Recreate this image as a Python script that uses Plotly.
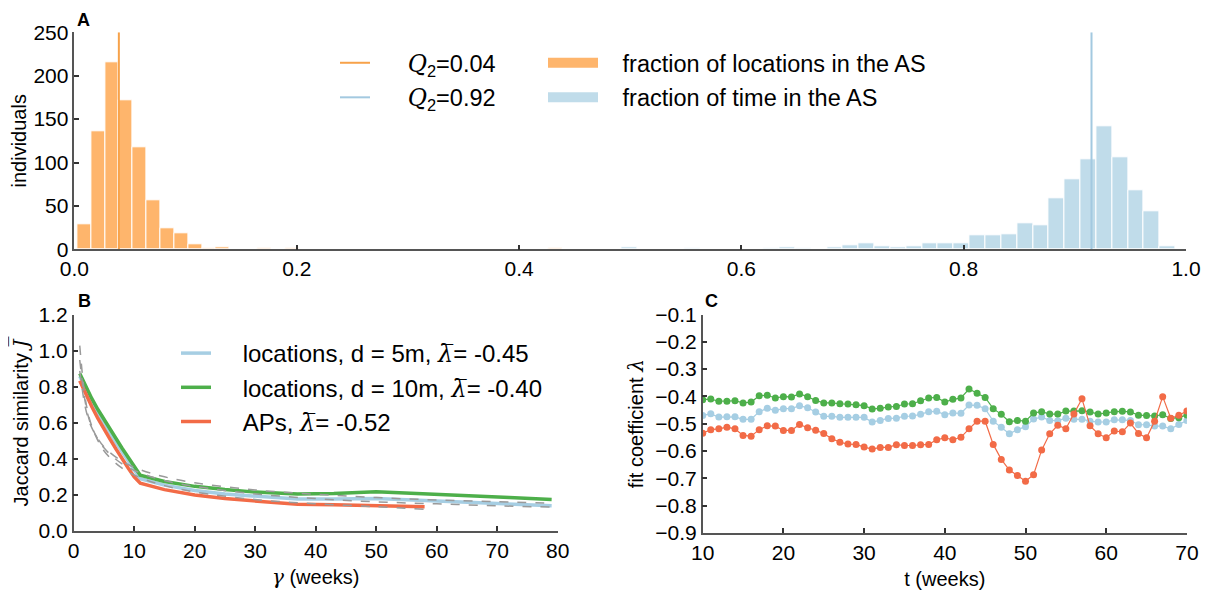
import plotly.graph_objects as go

# ---------------- Panel A data (histograms) ----------------
loc_bin_start = 0.0025
loc_bin_width = 0.01247
loc_counts = [29, 136, 216, 172, 117, 56, 24, 18, 6, 1, 2, 0, 0, 1, 0, 1, 0, 0, 0, 0,
              0, 0, 0, 0, 0, 0, 0, 0, 0, 0, 0, 0, 0, 0, 1]
time_bin_start = 0.4918
time_bin_width = 0.01425
time_counts = [2, 0, 0, 0, 1, 0, 0, 0, 0, 1, 2, 1, 0, 2, 5, 7, 4, 2, 4, 7,
               7, 7, 16, 16, 17, 30, 28, 59, 81, 104, 142, 106, 68, 44, 4]
q2_loc = 0.04
q2_time = 0.915
hist_top = 250

# ---------------- Panel B data (Jaccard similarity) ----------------
gamma = [1, 2, 3, 4, 5, 6, 7, 8, 9, 10, 11, 15, 20, 25, 30, 37, 43, 50, 58, 65, 72, 79]
jac_loc5 = [0.86, 0.785, 0.72, 0.66, 0.60, 0.545, 0.49, 0.44, 0.39, 0.34, 0.29, 0.255,
            0.225, 0.205, 0.192, 0.178, 0.178, 0.181, 0.17, 0.16, 0.15, 0.14]
jac_loc10 = [0.875, 0.80, 0.735, 0.675, 0.62, 0.565, 0.51, 0.46, 0.41, 0.36, 0.31, 0.275,
             0.248, 0.23, 0.216, 0.205, 0.208, 0.218, 0.208, 0.196, 0.186, 0.175]
gamma_ap = [1, 2, 3, 4, 5, 6, 7, 8, 9, 10, 11, 15, 20, 25, 30, 37, 43, 50, 58]
jac_ap = [0.835, 0.76, 0.69, 0.625, 0.565, 0.51, 0.455, 0.40, 0.35, 0.30, 0.265, 0.23,
          0.20, 0.18, 0.168, 0.148, 0.146, 0.143, 0.135]

fit_gamma = [1, 2, 3, 5, 8, 11, 15, 20, 30, 40, 50, 60, 70, 79]
fit_loc10 = [0.89, 0.675, 0.573, 0.468, 0.387, 0.341, 0.301, 0.268, 0.228, 0.204, 0.186,
             0.172, 0.163, 0.155]
fit_loc5 = [0.95, 0.70, 0.577, 0.462, 0.373, 0.323, 0.280, 0.248, 0.206, 0.180, 0.162,
            0.151, 0.140, 0.133]
fit_gamma_ap = [1, 2, 3, 5, 8, 11, 15, 20, 30, 40, 50, 58]
fit_ap = [1.03, 0.718, 0.582, 0.446, 0.349, 0.296, 0.252, 0.217, 0.175, 0.151, 0.135, 0.12]

# ---------------- Panel C data (fit coefficient over time) ----------------
t_weeks = list(range(10, 71))
lam_loc10 = [-0.412, -0.410, -0.418, -0.418, -0.416, -0.424, -0.421, -0.398, -0.396, -0.406,
             -0.401, -0.402, -0.391, -0.401, -0.415, -0.424, -0.424, -0.427, -0.428, -0.431,
             -0.434, -0.446, -0.444, -0.439, -0.437, -0.428, -0.427, -0.416, -0.406, -0.404,
             -0.421, -0.411, -0.406, -0.373, -0.389, -0.404, -0.445, -0.466, -0.493, -0.488,
             -0.491, -0.461, -0.456, -0.465, -0.465, -0.454, -0.454, -0.453, -0.457, -0.465,
             -0.461, -0.456, -0.455, -0.457, -0.469, -0.470, -0.472, -0.467, -0.481, -0.478,
             -0.468]
lam_loc5 = [-0.470, -0.464, -0.476, -0.475, -0.475, -0.484, -0.484, -0.456, -0.444, -0.451,
            -0.445, -0.445, -0.434, -0.442, -0.457, -0.473, -0.473, -0.477, -0.477, -0.477,
            -0.477, -0.494, -0.488, -0.481, -0.480, -0.473, -0.472, -0.466, -0.456, -0.455,
            -0.467, -0.461, -0.462, -0.432, -0.433, -0.445, -0.491, -0.513, -0.537, -0.522,
            -0.511, -0.483, -0.476, -0.488, -0.489, -0.480, -0.484, -0.484, -0.491, -0.494,
            -0.494, -0.486, -0.486, -0.488, -0.504, -0.504, -0.509, -0.509, -0.519, -0.503,
            -0.488]
lam_ap = [-0.535, -0.522, -0.519, -0.513, -0.519, -0.543, -0.546, -0.522, -0.508, -0.509,
          -0.525, -0.525, -0.503, -0.515, -0.524, -0.536, -0.555, -0.568, -0.575, -0.576,
          -0.586, -0.593, -0.587, -0.587, -0.577, -0.580, -0.580, -0.577, -0.576, -0.559,
          -0.552, -0.559, -0.550, -0.519, -0.491, -0.491, -0.576, -0.631, -0.670, -0.690,
          -0.711, -0.687, -0.597, -0.537, -0.506, -0.519, -0.465, -0.409, -0.508, -0.537,
          -0.552, -0.527, -0.530, -0.498, -0.536, -0.552, -0.491, -0.401, -0.480, -0.469,
          -0.454]

# ---------------- styling ----------------
ORANGE_BAR = "#FEB56C"
ORANGE_LINE = "#F7A24A"
BLUE_BAR = "#C0DCEA"
BLUE_LINE = "#A3C9E0"
C_BLUE = "#A6CEE3"
C_GREEN = "#4DAF4A"
C_RED = "#F26B47"
FONT = "Liberation Sans, Arial, sans-serif"
W, H = 1215, 590
OFF = 8  # page body margin of the html page
NB = "\u00a0"


def px(p):
    return (p - OFF) / W


def py(p):
    return 1 - (p - OFF) / H


def math(s):
    return "<span style='font-family:\"DejaVu Serif\", \"Liberation Serif\", serif'><i>" + s + "</i></span>"


fig = go.Figure()

loc_x = [loc_bin_start + loc_bin_width * (i + 0.5) for i in range(len(loc_counts))]
time_x = [time_bin_start + time_bin_width * (i + 0.5) for i in range(len(time_counts))]

fig.add_trace(go.Bar(x=loc_x, y=loc_counts, width=loc_bin_width,
                     marker=dict(color=ORANGE_BAR, line=dict(color="white", width=1)),
                     name="fraction of locations in the AS", showlegend=False, xaxis="x", yaxis="y"))
fig.add_trace(go.Bar(x=time_x, y=time_counts, width=time_bin_width,
                     marker=dict(color=BLUE_BAR, line=dict(color="white", width=1)),
                     name="fraction of time in the AS", showlegend=False, xaxis="x", yaxis="y"))
fig.add_trace(go.Scatter(x=[q2_loc, q2_loc], y=[0, hist_top], mode="lines", line=dict(color=ORANGE_LINE, width=2),
                         name=NB * 5 + math("Q") + "<sub>2</sub>=0.04", legend="legend", legendgroup="q1",
                         xaxis="x", yaxis="y"))
fig.add_trace(go.Scatter(x=[q2_time, q2_time], y=[0, hist_top], mode="lines", line=dict(color=BLUE_LINE, width=2),
                         name=NB * 5 + math("Q") + "<sub>2</sub>=0.92", legend="legend", legendgroup="q2",
                         xaxis="x", yaxis="y"))
# legend patches for histograms
fig.add_trace(go.Scatter(x=[None], y=[None], mode="lines", line=dict(color=ORANGE_BAR, width=16),
                         name=NB * 3 + "fraction of locations in the AS", legend="legend2", legendgroup="h1",
                         xaxis="x", yaxis="y"))
fig.add_trace(go.Scatter(x=[None], y=[None], mode="lines", line=dict(color=BLUE_BAR, width=16),
                         name=NB * 3 + "fraction of time in the AS", legend="legend2", legendgroup="h2",
                         xaxis="x", yaxis="y"))

# Panel B
LB = math("λ\u0305")
fig.add_trace(go.Scatter(x=gamma, y=jac_loc5, mode="lines", line=dict(color=C_BLUE, width=3.5),
                         name=NB * 4 + "locations, d = 5m, " + LB + "= -0.45", legend="legend3", legendgroup="b1",
                         xaxis="x2", yaxis="y2"))
fig.add_trace(go.Scatter(x=gamma, y=jac_loc10, mode="lines", line=dict(color=C_GREEN, width=3.5),
                         name=NB * 4 + "locations, d = 10m, " + LB + "= -0.40", legend="legend3", legendgroup="b2",
                         xaxis="x2", yaxis="y2"))
fig.add_trace(go.Scatter(x=gamma_ap, y=jac_ap, mode="lines", line=dict(color=C_RED, width=3.5),
                         name=NB * 4 + "APs, " + LB + "= -0.52", legend="legend3", legendgroup="b3",
                         xaxis="x2", yaxis="y2"))
for fx, fy in [(fit_gamma, fit_loc5), (fit_gamma, fit_loc10), (fit_gamma_ap, fit_ap)]:
    fig.add_trace(go.Scatter(x=fx, y=fy, mode="lines",
                             line=dict(color="#9A9A9A", width=1.5, dash="dash", shape="spline"),
                             showlegend=False, xaxis="x2", yaxis="y2"))

# Panel C
for ys, col in [(lam_loc5, C_BLUE), (lam_loc10, C_GREEN), (lam_ap, C_RED)]:
    fig.add_trace(go.Scatter(x=t_weeks, y=ys, mode="lines+markers", line=dict(color=col, width=1.2),
                             marker=dict(color=col, size=7), showlegend=False, xaxis="x3", yaxis="y3"))

axis_common = dict(showline=True, linecolor="#555555", linewidth=1.5, ticks="inside", ticklen=5,
                   tickcolor="#333333", tickwidth=1.5, showgrid=False, zeroline=False, automargin=False,
                   tickfont=dict(size=21, color="black"))

fig.update_layout(
    width=W, height=H, margin=dict(l=0, r=0, t=0, b=0, autoexpand=False),
    paper_bgcolor="white", plot_bgcolor="white",
    font=dict(family=FONT, size=20, color="black"),
    barmode="overlay", bargap=0,
    xaxis=dict(domain=[px(74.4), px(1186)], range=[0, 1], tick0=0, dtick=0.2, tickformat=".1f",
               anchor="y", **axis_common),
    yaxis=dict(domain=[py(249.3), py(32.3)], range=[0, 250], tick0=0, dtick=50, anchor="x",
               title=dict(text="individuals", font=dict(size=20), standoff=6), **axis_common),
    xaxis2=dict(domain=[px(73.7), px(557.7)], range=[0, 80], tick0=0, dtick=10, anchor="y2",
                title=dict(text=math("γ") + " (weeks)", font=dict(size=20), standoff=9), **axis_common),
    yaxis2=dict(domain=[py(531), py(315)], range=[0, 1.2], tick0=0, dtick=0.2, tickformat=".1f",
                anchor="x2",
                title=dict(text="Jaccard similarity " + math("J\u0305"), font=dict(size=20), standoff=6),
                **axis_common),
    xaxis3=dict(domain=[px(702.7), px(1186.9)], range=[10, 70], tick0=10, dtick=10, anchor="y3",
                title=dict(text="t (weeks)", font=dict(size=20), standoff=9), **axis_common),
    yaxis3=dict(domain=[py(532.8), py(314.5)], range=[-0.9, -0.1], tick0=-0.9, dtick=0.1,
                tickformat=".1f", anchor="x3",
                title=dict(text="fit coefficient " + math("λ"), font=dict(size=20), standoff=6), **axis_common),
    legend=dict(x=px(335), y=py(41), xanchor="left", yanchor="top", bgcolor="rgba(0,0,0,0)",
                font=dict(size=23.5), itemwidth=30, tracegroupgap=1),
    legend2=dict(x=px(543), y=py(41), xanchor="left", yanchor="top", bgcolor="rgba(0,0,0,0)",
                 font=dict(size=23.5), itemwidth=50, tracegroupgap=1),
    legend3=dict(x=px(176), y=py(331), xanchor="left", yanchor="top", bgcolor="rgba(0,0,0,0)",
                 font=dict(size=24), itemwidth=30, tracegroupgap=0),
    annotations=[
        dict(text="<b>A</b>", x=px(75), y=py(8), xref="paper", yref="paper", xanchor="left",
             yanchor="top", showarrow=False, font=dict(size=18)),
        dict(text="<b>B</b>", x=px(76), y=py(301), xref="paper", yref="paper", xanchor="left",
             yanchor="middle", showarrow=False, font=dict(size=18)),
        dict(text="<b>C</b>", x=px(703), y=py(301), xref="paper", yref="paper", xanchor="left",
             yanchor="middle", showarrow=False, font=dict(size=18)),
    ],
)

fig.write_html("out.html")
